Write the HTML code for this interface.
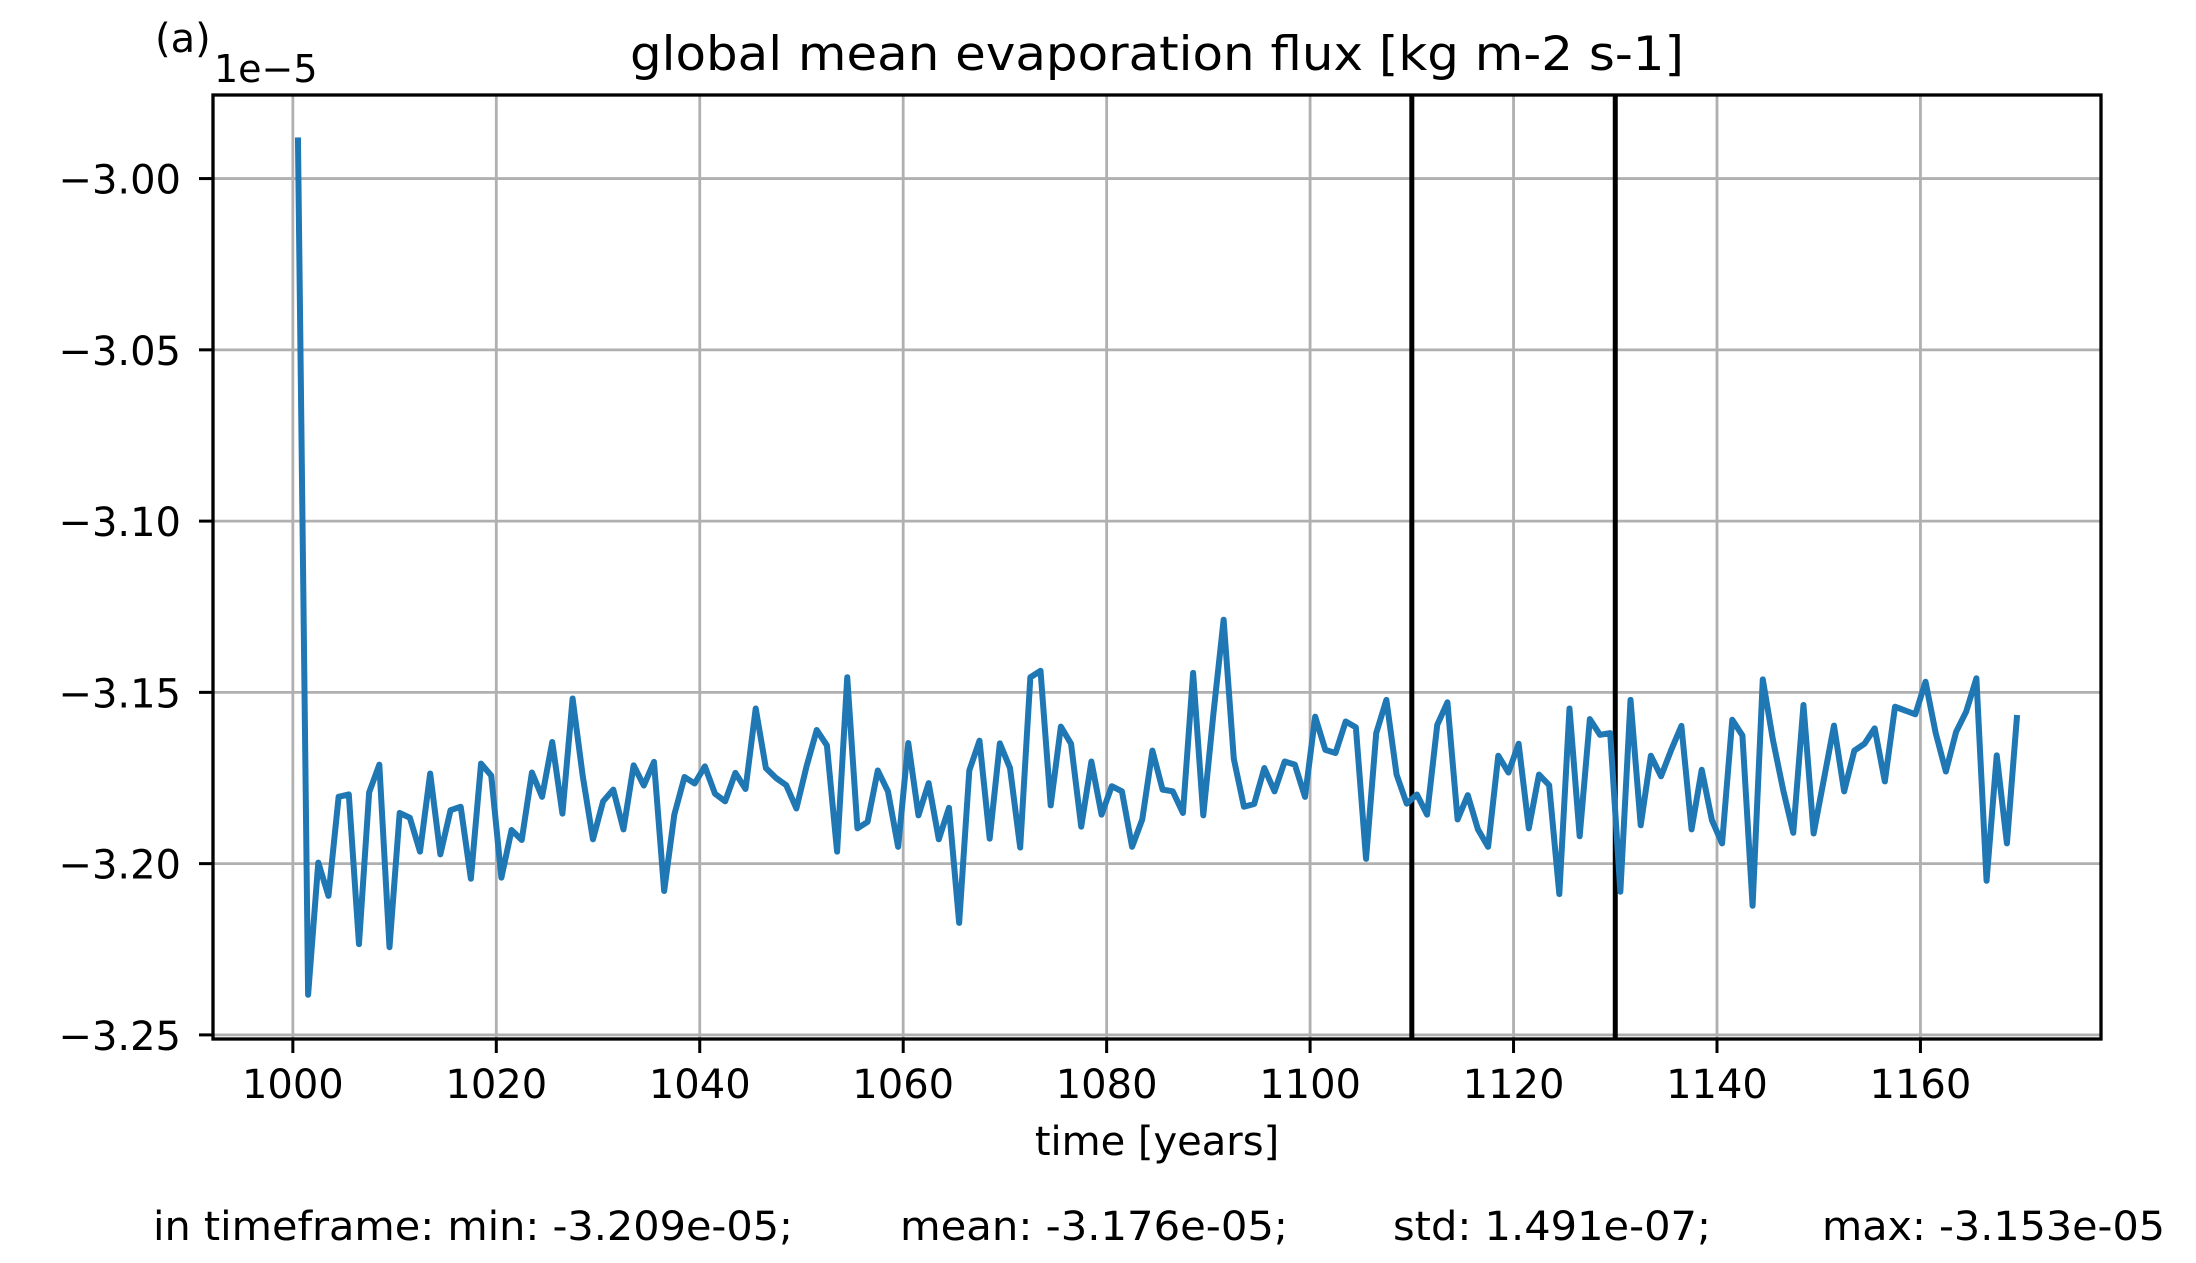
<!DOCTYPE html>
<html><head><meta charset="utf-8"><style>
html,body{margin:0;padding:0;background:#fff;}
svg{display:block;font-family:"DejaVu Sans","Liberation Sans",sans-serif;}
</style></head><body>
<svg id="chart" width="2196" height="1263" viewBox="0 0 2196 1263" xmlns="http://www.w3.org/2000/svg">
<rect x="0" y="0" width="2196" height="1263" fill="#fff"/>
<g id="grid"></g>
<g id="vlines"></g>
<g id="series"></g>
<rect x="213" y="95" width="1888" height="944" fill="none" stroke="#000" stroke-width="3.3"/>
<g id="ticks"></g>
<text x="155" y="52" font-size="40">(a)</text>
<text x="214" y="82" font-size="38">1e−5</text>
<text x="1157" y="70" font-size="47" text-anchor="middle" textLength="1054" lengthAdjust="spacingAndGlyphs">global mean evaporation flux [kg m-2 s-1]</text>
<text x="1157" y="1155" font-size="40" text-anchor="middle">time [years]</text>
<text x="153" y="1240" font-size="40" textLength="640" lengthAdjust="spacingAndGlyphs">in timeframe: min: -3.209e-05;</text>
<text x="900" y="1240" font-size="40" textLength="388" lengthAdjust="spacingAndGlyphs">mean: -3.176e-05;</text>
<text x="1393" y="1240" font-size="40" textLength="318" lengthAdjust="spacingAndGlyphs">std: 1.491e-07;</text>
<text x="1822" y="1240" font-size="40" textLength="343" lengthAdjust="spacingAndGlyphs">max: -3.153e-05</text>
</svg>
<script>
const values = [-2.988,-3.2383,-3.1997,-3.2094,-3.1805,-3.1798,-3.2235,-3.1792,-3.1711,-3.2244,
-3.1852,-3.1866,-3.1965,-3.1737,-3.1973,-3.1844,-3.1834,-3.2044,-3.1708,-3.1743,
-3.2041,-3.1902,-3.1931,-3.1734,-3.1805,-3.1645,-3.1854,-3.1518,-3.1745,-3.1929,
-3.1818,-3.1784,-3.1900,-3.1713,-3.1772,-3.1703,-3.2080,-3.1857,-3.1747,-3.1766,
-3.1716,-3.1796,-3.1818,-3.1735,-3.1782,-3.1547,-3.1721,-3.1750,-3.1771,-3.1839,
-3.1716,-3.1610,-3.1655,-3.1965,-3.1456,-3.1897,-3.1878,-3.1728,-3.1789,-3.1951,
-3.1648,-3.1859,-3.1765,-3.1929,-3.1837,-3.2173,-3.1728,-3.1641,-3.1927,-3.1649,
-3.1721,-3.1953,-3.1456,-3.1437,-3.1830,-3.1600,-3.1650,-3.1892,-3.1702,-3.1857,
-3.1774,-3.1789,-3.1951,-3.1871,-3.1670,-3.1784,-3.1789,-3.1852,-3.1443,-3.1859,
-3.1561,-3.1288,-3.1694,-3.1834,-3.1826,-3.1721,-3.1789,-3.1702,-3.1711,-3.1805,
-3.1571,-3.1668,-3.1677,-3.1585,-3.1602,-3.1986,-3.1619,-3.1522,-3.1740,-3.1825,
-3.1798,-3.1857,-3.1595,-3.1529,-3.1871,-3.1800,-3.1900,-3.1951,-3.1685,-3.1734,
-3.1650,-3.1897,-3.1740,-3.1771,-3.2089,-3.1547,-3.1920,-3.1578,-3.1624,-3.1619,
-3.2082,-3.1522,-3.1888,-3.1685,-3.1745,-3.1668,-3.1598,-3.1900,-3.1726,-3.1873,
-3.1941,-3.1580,-3.1626,-3.2123,-3.1462,-3.1639,-3.1784,-3.1910,-3.1537,-3.1912,
-3.1755,-3.1597,-3.1789,-3.1670,-3.1650,-3.1605,-3.1760,-3.1542,-3.1553,-3.1564,
-3.1469,-3.1619,-3.1731,-3.1616,-3.1556,-3.1459,-3.2050,-3.1684,-3.1941,-3.1566];
const startYear = 1000.5;
const xTicks = [1000,1020,1040,1060,1080,1100,1120,1140,1160];
const yTicks = [-3.00,-3.05,-3.10,-3.15,-3.20,-3.25];
const yTickLabels = ["−3.00","−3.05","−3.10","−3.15","−3.20","−3.25"];
const markerYears = [1110,1130];

const NS = "http://www.w3.org/2000/svg";
const L = 213, R = 2101, T = 95, B = 1039;
const xMin = 992.15, xMax = 1177.75;
const yMin = -3.2512, yMax = -2.9756;
function xs(v){ return L + (v - xMin) / (xMax - xMin) * (R - L); }
function ys(v){ return B - (v - yMin) / (yMax - yMin) * (B - T); }
function mk(tag, attrs, parent){
  const e = document.createElementNS(NS, tag);
  for (const k in attrs) e.setAttribute(k, attrs[k]);
  parent.appendChild(e); return e;
}
const grid = document.getElementById('grid');
const ticks = document.getElementById('ticks');
xTicks.forEach(t => {
  const x = xs(t);
  const g = mk('line', {x1:x, x2:x, y1:T, y2:B, stroke:'#b0b0b0', 'stroke-width':2.8}, grid);
  
  
  const tk = mk('line', {x1:x, x2:x, y1:B, y2:B+14, stroke:'#000', 'stroke-width':3}, ticks);
  
  
  const lb = mk('text', {x:x, y:1098, 'font-size':40, 'text-anchor':'middle'}, ticks);
  lb.textContent = String(t);
  
  
});
yTicks.forEach((t, i) => {
  const y = ys(t);
  const g = mk('line', {x1:L, x2:R, y1:y, y2:y, stroke:'#b0b0b0', 'stroke-width':2.8}, grid);
  
  
  const tk = mk('line', {x1:L-14, x2:L, y1:y, y2:y, stroke:'#000', 'stroke-width':3}, ticks);
  
  
  const lb = mk('text', {x:181, y:y+15, 'font-size':40, 'text-anchor':'end'}, ticks);
  lb.textContent = yTickLabels[i];
  
  
});
const vl = document.getElementById('vlines');
markerYears.forEach(yr => {
  const x = xs(yr);
  const l = mk('line', {x1:x, x2:x, y1:T, y2:B, stroke:'#000', 'stroke-width':5}, vl);
  
  
});
const pts = values.map((v, i) => xs(startYear + i).toFixed(2) + ',' + ys(v).toFixed(2)).join(' ');
const pl = mk('polyline', {points:pts, fill:'none', stroke:'#1f77b4', 'stroke-width':6, 'stroke-linejoin':'round', 'stroke-linecap':'butt'}, document.getElementById('series'));


</script>
</body></html>
